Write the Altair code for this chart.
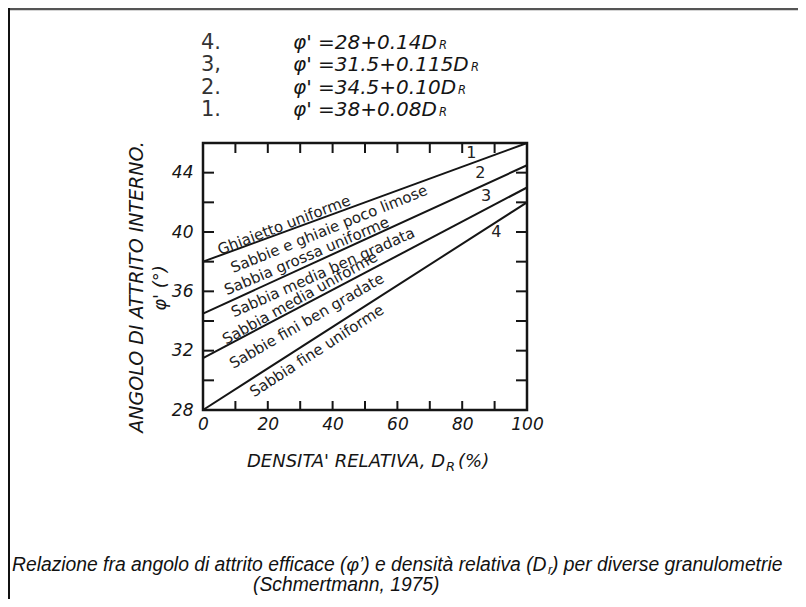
import altair as alt
import pandas as pd

# ---------------- data ----------------
curve_ids = ["1", "2", "3", "4"]
dr_start = [0, 0, 0, 0]
dr_end = [100, 100, 100, 100]
phi_start = [38.0, 34.5, 31.5, 28.0]
phi_end = [46.0, 44.5, 43.0, 42.0]

x_label_values = [0, 20, 40, 60, 80, 100]
y_label_values = [28, 32, 36, 40, 44]
x_minor_ticks = [10, 20, 30, 40, 50, 60, 70, 80, 90]
y_minor_ticks = [30, 32, 34, 36, 38, 40, 42, 44]

soil_text = [
    "Ghiaietto uniforme",
    "Sabbie e ghiaie poco limose",
    "Sabbia grossa uniforme",
    "Sabbia media ben gradata",
    "Sabbia media uniforme",
    "Sabbie fini ben gradate",
    "Sabbia fine uniforme",
]
soil_dr = [25.0, 38.9, 32.0, 37.0, 29.9, 32.0, 35.1]
soil_phi = [40.47, 40.21, 38.38, 37.28, 35.55, 34.01, 31.99]
soil_angle = [339, 338, 337, 336, 331, 330, 327]

curve_num_dr = [82.8, 85.6, 87.4, 90.5]
curve_num_phi = [45.3, 44.0, 42.4, 40.0]

eq_nums = ["4.", "3,", "2.", "1."]
eq_texts = ["φ' =28+0.14D", "φ' =31.5+0.115D", "φ' =34.5+0.10D", "φ' =38+0.08D"]

y_title = "ANGOLO DI ATTRITO INTERNO."
y_title2 = "φ' (°)"
x_title_main = "DENSITA' RELATIVA, D"
x_title_sub = "R"
x_title_end = "(%)"
caption_a = "Relazione fra angolo di attrito efficace  (φ’) e densità relativa (D"
caption_sub = "r"
caption_c = ") per diverse granulometrie"
caption_2 = "(Schmertmann, 1975)"

# ---------------- layout ----------------
W, H = 324, 267
FONT = "DejaVu Sans"
CAP_FONT = "Liberation Sans"
INK = "#151515"
eq_row_y = [-100, -78, -55, -33]
eq_sub_x = [236, 268, 255, 236]

sx = alt.Scale(domain=[0, 100], nice=False, zero=False)
sy = alt.Scale(domain=[28, 46], nice=False, zero=False)

xa = alt.Axis(values=x_label_values, ticks=False, tickSize=0, domain=False, grid=False,
              labelFont=FONT, labelFontStyle="italic", labelFontSize=17, labelColor=INK,
              labelPadding=6, labelFlush=False, title=None)
ya = alt.Axis(values=y_label_values, ticks=False, tickSize=0, domain=False, grid=False,
              labelFont=FONT, labelFontStyle="italic", labelFontSize=17, labelColor=INK,
              labelPadding=10, title=None)

rows = []
for cid, x0, x1, y0, y1 in zip(curve_ids, dr_start, dr_end, phi_start, phi_end):
    rows.append({"curve": cid, "DR": x0, "phi": y0})
    rows.append({"curve": cid, "DR": x1, "phi": y1})
lines_df = pd.DataFrame(rows)

one = pd.DataFrame({"k": [0]})

X = lambda: alt.X("DR:Q", scale=sx, axis=xa)
Y = lambda: alt.Y("phi:Q", scale=sy, axis=ya)

lines = alt.Chart(lines_df).mark_line(color=INK, strokeWidth=2).encode(
    x=X(), y=Y(), detail="curve:N")

xt = pd.DataFrame({"DR": x_minor_ticks})
yt = pd.DataFrame({"phi": y_minor_ticks})
tick_style = dict(color=INK, strokeWidth=2)
top_ticks = alt.Chart(xt).mark_rule(**tick_style).encode(
    x=X(), y=alt.value(0), y2=alt.value(10))
bottom_ticks = alt.Chart(xt).mark_rule(**tick_style).encode(
    x=X(), y=alt.value(H), y2=alt.value(H - 9))
left_ticks = alt.Chart(yt).mark_rule(**tick_style).encode(
    y=Y(), x=alt.value(0), x2=alt.value(11))
right_ticks = alt.Chart(yt).mark_rule(**tick_style).encode(
    y=Y(), x=alt.value(W), x2=alt.value(W - 11))

soil_df = pd.DataFrame({"label": soil_text, "DR": soil_dr, "phi": soil_phi, "ang": soil_angle})
soil = alt.Chart(soil_df).mark_text(
    font=FONT, fontSize=15, color="#222", align="center", baseline="middle").encode(
    x=X(), y=Y(), text="label:N", angle=alt.Angle("ang:Q", scale=None))

num_df = pd.DataFrame({"label": curve_ids, "DR": curve_num_dr, "phi": curve_num_phi})
nums = alt.Chart(num_df).mark_text(
    font=FONT, fontSize=16, color="#222", align="center", baseline="middle").encode(
    x=X(), y=Y(), text="label:N")


def label(txt, x, y, size, font=FONT, style="normal", align="left", angle=0, color=INK):
    kw = dict(font=font, fontSize=size, fontStyle=style, align=align,
              baseline="middle", color=color)
    if angle:
        kw["angle"] = angle
    return alt.Chart(one).mark_text(**kw).encode(
        x=alt.value(x), y=alt.value(y), text=alt.value(txt))


annots = []
for n, eq, yy, sxp in zip(eq_nums, eq_texts, eq_row_y, eq_sub_x):
    annots.append(label(n, -2, yy, 21, color="#333"))
    annots.append(label(eq, 90, yy, 20, style="italic"))
    annots.append(label("R", sxp, yy + 3, 11.5, style="italic"))

annots.append(label(y_title, -66, 144, 19, style="italic", align="center", angle=270))
annots.append(label(y_title2, -42, 145, 18, style="italic", align="center", angle=270))

annots.append(label(x_title_main, 242, 319, 18, style="italic", align="right"))
annots.append(label(x_title_sub, 243, 324, 13, style="italic"))
annots.append(label(x_title_end, 255, 319, 18, style="italic"))

CAP = 19.3
annots.append(label(caption_a, -191, 422, CAP, font=CAP_FONT, style="italic", color="#111"))
annots.append(label(caption_sub, 345, 427, 12.5, font=CAP_FONT, style="italic", color="#111"))
annots.append(label(caption_c, 349, 422, CAP, font=CAP_FONT, style="italic", color="#111"))
annots.append(label(caption_2, 50, 442, CAP, font=CAP_FONT, style="italic", color="#111"))

top_border = alt.Chart(one).mark_rule(color="#555", strokeWidth=2.5).encode(
    x=alt.value(-195), x2=alt.value(600), y=alt.value(-134))
left_border = alt.Chart(one).mark_rule(color="#111", strokeWidth=2).encode(
    x=alt.value(-194), y=alt.value(-135), y2=alt.value(470))

chart = alt.layer(
    lines, top_ticks, bottom_ticks, left_ticks, right_ticks, soil, nums,
    *annots, top_border, left_border,
).properties(
    width=W, height=H,
    autosize=alt.AutoSizeParams(type="none"),
    padding={"left": 195, "top": 135, "right": 271, "bottom": 189},
    background="white",
).configure_view(stroke=INK, strokeWidth=2.5)

chart.save("out.html", embed_options={"renderer": "svg", "actions": False})
